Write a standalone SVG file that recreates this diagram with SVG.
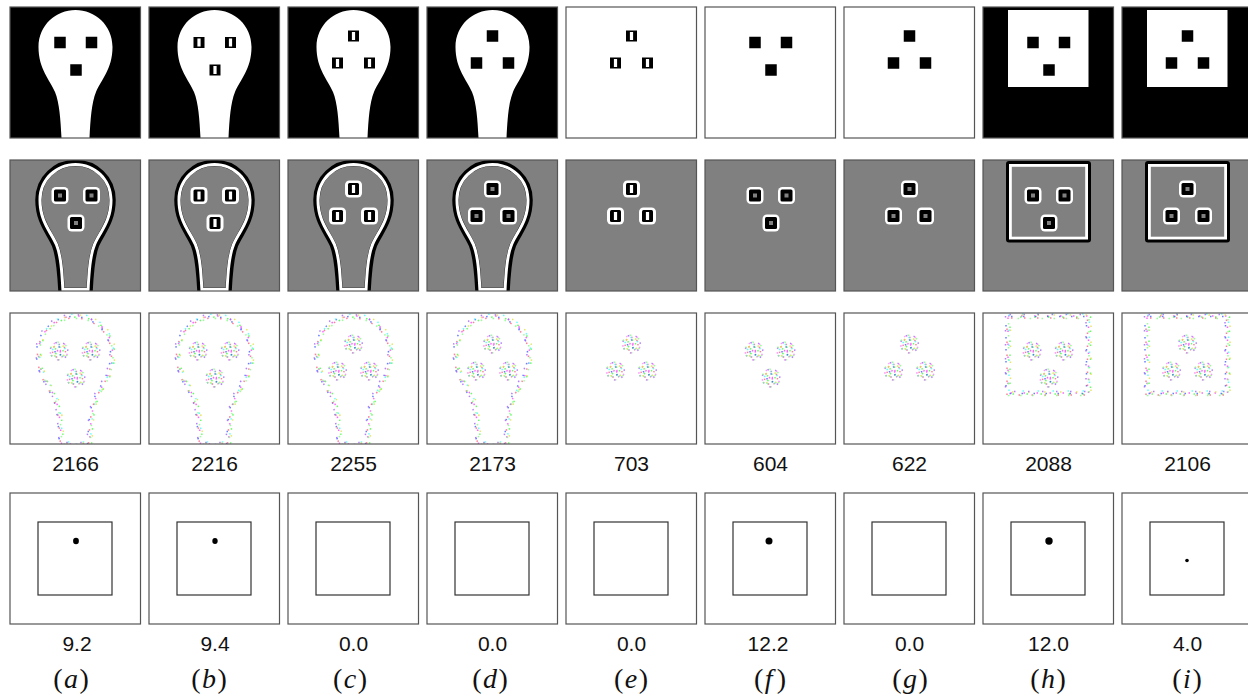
<svg xmlns="http://www.w3.org/2000/svg" xmlns:xlink="http://www.w3.org/1999/xlink" width="1248" height="698" viewBox="0 0 1248 698">
<style>
.frame{fill:none;stroke:#555;stroke-width:1.2}
.num{font-family:"Liberation Sans",Arial,sans-serif;font-size:21px;fill:#111;text-anchor:middle}
.lab{font-family:"Liberation Serif","Times New Roman",serif;font-size:28px;fill:#111;text-anchor:middle}
.d{fill:none;stroke-width:1.5;opacity:0.8}
</style>
<defs>
<path id="head" d="M51.5,131 C50.5,112 49.5,96 45,85 C40,73 28.5,62 28.5,40 C28.5,18 46,3 65.5,3 C85,3 102.5,18 102.5,40 C102.5,62 91,73 86,85 C81.5,96 80.5,112 79.5,131 Z"/>
<path id="box" d="M25,3 H105.5 V80 H25 Z"/>
<clipPath id="hc"><path d="M51.5,131 C50.5,112 49.5,96 45,85 C40,73 28.5,62 28.5,40 C28.5,18 46,3 65.5,3 C85,3 102.5,18 102.5,40 C102.5,62 91,73 86,85 C81.5,96 80.5,112 79.5,131 Z"/></clipPath>
<clipPath id="pc"><rect x="0" y="0" width="130.5" height="131"/></clipPath>
<filter id="soft" x="-10%" y="-10%" width="120%" height="120%"><feGaussianBlur stdDeviation="0.5"/></filter>
<filter id="blur1" x="-50%" y="-50%" width="200%" height="200%"><feGaussianBlur stdDeviation="0.6"/></filter>
<g id="sq"><rect x="-5.75" y="-5.75" width="11.5" height="11.5" fill="#000"/></g>
<g id="sl"><rect x="-5.5" y="-5.5" width="11" height="11" fill="#000"/><rect x="-1.6" y="-4" width="3.2" height="8" fill="#fff"/></g>
<g id="sq2"><rect x="-8.5" y="-8.5" width="17" height="17" rx="4.5" fill="#fff"/><rect x="-6" y="-6" width="12" height="12" rx="1.5" fill="#000"/><rect x="-2" y="-2" width="4" height="4" fill="#808080"/></g>
<g id="sl2"><rect x="-8.5" y="-8.5" width="17" height="17" rx="4.5" fill="#fff"/><rect x="-5.5" y="-6" width="11" height="12" rx="1.5" fill="#000"/><rect x="-1.6" y="-4" width="3.2" height="8" fill="#fff"/></g>
<g id="cl">
<circle r="1.5" class="d" stroke="#ff40ff" stroke-dasharray="1.5 2.2"/>
<circle r="4" class="d" stroke="#40ff40" stroke-dasharray="1.5 3.4" stroke-dashoffset="1"/>
<circle r="4" class="d" stroke="#4060ff" stroke-dasharray="1.5 5.4" stroke-dashoffset="3"/>
<circle r="6.5" class="d" stroke="#ff6080" stroke-dasharray="1.5 4.4"/>
<circle r="6.5" class="d" stroke="#40ffff" stroke-dasharray="1.5 6.4" stroke-dashoffset="3"/>
<circle r="6.5" class="d" stroke="#e0e040" stroke-dasharray="1.5 8.4" stroke-dashoffset="6"/>
<circle r="8.8" class="d" stroke="#a060ff" stroke-dasharray="1.5 6.4" stroke-dashoffset="2"/>
<circle r="8.8" class="d" stroke="#80ff80" stroke-dasharray="1.5 7.4" stroke-dashoffset="5"/>
<circle r="8.8" class="d" stroke="#ff80ff" stroke-dasharray="1.5 9.4" stroke-dashoffset="8"/>
</g>
<g id="hd">
<use href="#head" class="d" stroke="#ff40ff" stroke-dasharray="1.5 11.5"/>
<use href="#head" class="d" stroke="#40ff40" stroke-dasharray="1.5 12.5" stroke-dashoffset="4" transform="translate(2,1)"/>
<use href="#head" class="d" stroke="#4060ff" stroke-dasharray="1.5 10.5" stroke-dashoffset="7" transform="translate(-2,0.5)"/>
<use href="#head" class="d" stroke="#40ffff" stroke-dasharray="1.5 13.5" stroke-dashoffset="2" transform="translate(1,-2)"/>
<use href="#head" class="d" stroke="#ff6080" stroke-dasharray="1.5 11.5" stroke-dashoffset="9" transform="translate(-1,2)"/>
<use href="#head" class="d" stroke="#e0e040" stroke-dasharray="1.5 14.5" stroke-dashoffset="5" transform="translate(2.5,-1)"/>
<use href="#head" class="d" stroke="#a060ff" stroke-dasharray="1.5 12.5" stroke-dashoffset="10" transform="translate(-2.5,-1.5)"/>
<use href="#head" class="d" stroke="#80ff80" stroke-dasharray="1.5 10.5" stroke-dashoffset="3" transform="translate(0.5,2.5)"/>
</g>
<g id="bd">
<use href="#box" class="d" stroke="#ff40ff" stroke-dasharray="1.5 11.5"/>
<use href="#box" class="d" stroke="#40ff40" stroke-dasharray="1.5 12.5" stroke-dashoffset="4" transform="translate(2,1)"/>
<use href="#box" class="d" stroke="#4060ff" stroke-dasharray="1.5 10.5" stroke-dashoffset="7" transform="translate(-2,0.5)"/>
<use href="#box" class="d" stroke="#40ffff" stroke-dasharray="1.5 13.5" stroke-dashoffset="2" transform="translate(1,-2)"/>
<use href="#box" class="d" stroke="#ff6080" stroke-dasharray="1.5 11.5" stroke-dashoffset="9" transform="translate(-1,2)"/>
<use href="#box" class="d" stroke="#e0e040" stroke-dasharray="1.5 14.5" stroke-dashoffset="5" transform="translate(2.5,-1)"/>
<use href="#box" class="d" stroke="#a060ff" stroke-dasharray="1.5 12.5" stroke-dashoffset="10" transform="translate(-2.5,-1.5)"/>
<use href="#box" class="d" stroke="#80ff80" stroke-dasharray="1.5 10.5" stroke-dashoffset="3" transform="translate(0.5,2.5)"/>
</g>
<g id="A1"><use href="#sq" x="50" y="35.5"/><use href="#sq" x="81.5" y="35.5"/><use href="#sq" x="66" y="63"/></g>
<g id="A1s"><use href="#sl" x="50" y="35.5"/><use href="#sl" x="81.5" y="35.5"/><use href="#sl" x="66" y="63"/></g>
<g id="B1"><use href="#sq" x="65.5" y="29"/><use href="#sq" x="49.5" y="56"/><use href="#sq" x="81.5" y="56"/></g>
<g id="B1s"><use href="#sl" x="65.5" y="29"/><use href="#sl" x="49.5" y="56"/><use href="#sl" x="81.5" y="56"/></g>
<g id="A2"><use href="#sq2" x="50" y="35.5"/><use href="#sq2" x="81.5" y="35.5"/><use href="#sq2" x="66" y="63"/></g>
<g id="A2s"><use href="#sl2" x="50" y="35.5"/><use href="#sl2" x="81.5" y="35.5"/><use href="#sl2" x="66" y="63"/></g>
<g id="B2"><use href="#sq2" x="65.5" y="29"/><use href="#sq2" x="49.5" y="56"/><use href="#sq2" x="81.5" y="56"/></g>
<g id="B2s"><use href="#sl2" x="65.5" y="29"/><use href="#sl2" x="49.5" y="56"/><use href="#sl2" x="81.5" y="56"/></g>
<g id="A3"><use href="#cl" x="49" y="38"/><use href="#cl" x="81" y="38"/><use href="#cl" x="66" y="65"/></g>
<g id="B3"><use href="#cl" x="65.5" y="31"/><use href="#cl" x="49.5" y="58"/><use href="#cl" x="81.5" y="58"/></g>
<g id="head2" filter="url(#soft)"><use href="#head" fill="none" stroke="#000" stroke-width="6.5"/><use href="#head" fill="none" stroke="#fff" stroke-width="6" clip-path="url(#hc)"/></g>
<g id="box2" filter="url(#soft)"><rect x="23" y="1" width="85" height="81.5" rx="3" fill="#000"/><rect x="26" y="4" width="79" height="75.5" fill="#fff"/><rect x="28.8" y="6.8" width="73.4" height="69.9" fill="#808080"/></g>
<g id="r4"><rect x="0" y="0" width="130.5" height="131" fill="#fff" stroke="#555" stroke-width="1.2"/><rect x="28" y="29" width="74" height="73" fill="none" stroke="#333" stroke-width="1.2"/></g>
</defs>
<rect width="1248" height="698" fill="#fff"/>

<g id="row1">
<g id="r1a" transform="translate(10,7)"><rect width="130.5" height="131" fill="#000"/><use href="#head" fill="#fff"/><use href="#A1"/><rect width="130.5" height="131" class="frame"/></g>
<g id="r1b" transform="translate(149,7)"><rect width="130.5" height="131" fill="#000"/><use href="#head" fill="#fff"/><use href="#A1s"/><rect width="130.5" height="131" class="frame"/></g>
<g id="r1c" transform="translate(288,7)"><rect width="130.5" height="131" fill="#000"/><use href="#head" fill="#fff"/><use href="#B1s"/><rect width="130.5" height="131" class="frame"/></g>
<g id="r1d" transform="translate(427,7)"><rect width="130.5" height="131" fill="#000"/><use href="#head" fill="#fff"/><use href="#B1"/><rect width="130.5" height="131" class="frame"/></g>
<g id="r1e" transform="translate(566,7)"><rect width="130.5" height="131" fill="#fff"/><use href="#B1s"/><rect width="130.5" height="131" class="frame"/></g>
<g id="r1f" transform="translate(705,7)"><rect width="130.5" height="131" fill="#fff"/><use href="#A1"/><rect width="130.5" height="131" class="frame"/></g>
<g id="r1g" transform="translate(844,7)"><rect width="130.5" height="131" fill="#fff"/><use href="#B1"/><rect width="130.5" height="131" class="frame"/></g>
<g id="r1h" transform="translate(983,7)"><rect width="130.5" height="131" fill="#000"/><rect x="25" y="3" width="80.5" height="77" fill="#fff"/><use href="#A1"/><rect width="130.5" height="131" class="frame"/></g>
<g id="r1i" transform="translate(1122,7)"><rect width="130.5" height="131" fill="#000"/><rect x="25" y="3" width="80.5" height="77" fill="#fff"/><use href="#B1"/><rect width="130.5" height="131" class="frame"/></g>
</g>

<g id="row2">
<g id="r2a" transform="translate(10,160)"><g clip-path="url(#pc)"><rect width="130.5" height="131" fill="#808080"/><use href="#head2"/><use href="#A2"/></g><rect width="130.5" height="131" class="frame"/></g>
<g id="r2b" transform="translate(149,160)"><g clip-path="url(#pc)"><rect width="130.5" height="131" fill="#808080"/><use href="#head2"/><use href="#A2s"/></g><rect width="130.5" height="131" class="frame"/></g>
<g id="r2c" transform="translate(288,160)"><g clip-path="url(#pc)"><rect width="130.5" height="131" fill="#808080"/><use href="#head2"/><use href="#B2s"/></g><rect width="130.5" height="131" class="frame"/></g>
<g id="r2d" transform="translate(427,160)"><g clip-path="url(#pc)"><rect width="130.5" height="131" fill="#808080"/><use href="#head2"/><use href="#B2"/></g><rect width="130.5" height="131" class="frame"/></g>
<g id="r2e" transform="translate(566,160)"><rect width="130.5" height="131" fill="#808080"/><use href="#B2s"/><rect width="130.5" height="131" class="frame"/></g>
<g id="r2f" transform="translate(705,160)"><rect width="130.5" height="131" fill="#808080"/><use href="#A2"/><rect width="130.5" height="131" class="frame"/></g>
<g id="r2g" transform="translate(844,160)"><rect width="130.5" height="131" fill="#808080"/><use href="#B2"/><rect width="130.5" height="131" class="frame"/></g>
<g id="r2h" transform="translate(983,160)"><rect width="130.5" height="131" fill="#808080"/><use href="#box2"/><use href="#A2"/><rect width="130.5" height="131" class="frame"/></g>
<g id="r2i" transform="translate(1122,160)"><rect width="130.5" height="131" fill="#808080"/><use href="#box2"/><use href="#B2"/><rect width="130.5" height="131" class="frame"/></g>
</g>

<g id="row3">
<g id="r3a" transform="translate(10,313)"><rect width="130.5" height="131" fill="#fff"/><g clip-path="url(#pc)"><use href="#hd"/><use href="#A3"/></g><rect width="130.5" height="131" class="frame"/></g>
<g id="r3b" transform="translate(149,313)"><rect width="130.5" height="131" fill="#fff"/><g clip-path="url(#pc)"><use href="#hd"/><use href="#A3"/></g><rect width="130.5" height="131" class="frame"/></g>
<g id="r3c" transform="translate(288,313)"><rect width="130.5" height="131" fill="#fff"/><g clip-path="url(#pc)"><use href="#hd"/><use href="#B3"/></g><rect width="130.5" height="131" class="frame"/></g>
<g id="r3d" transform="translate(427,313)"><rect width="130.5" height="131" fill="#fff"/><g clip-path="url(#pc)"><use href="#hd"/><use href="#B3"/></g><rect width="130.5" height="131" class="frame"/></g>
<g id="r3e" transform="translate(566,313)"><rect width="130.5" height="131" fill="#fff"/><use href="#B3"/><rect width="130.5" height="131" class="frame"/></g>
<g id="r3f" transform="translate(705,313)"><rect width="130.5" height="131" fill="#fff"/><use href="#A3"/><rect width="130.5" height="131" class="frame"/></g>
<g id="r3g" transform="translate(844,313)"><rect width="130.5" height="131" fill="#fff"/><use href="#B3"/><rect width="130.5" height="131" class="frame"/></g>
<g id="r3h" transform="translate(983,313)"><rect width="130.5" height="131" fill="#fff"/><use href="#bd"/><use href="#A3"/><rect width="130.5" height="131" class="frame"/></g>
<g id="r3i" transform="translate(1122,313)"><rect width="130.5" height="131" fill="#fff"/><use href="#bd"/><use href="#B3"/><rect width="130.5" height="131" class="frame"/></g>
<text class="num" x="75.5" y="470.5">2166</text>
<text class="num" x="214.5" y="470.5">2216</text>
<text class="num" x="353.5" y="470.5">2255</text>
<text class="num" x="492.5" y="470.5">2173</text>
<text class="num" x="631.5" y="470.5">703</text>
<text class="num" x="770.5" y="470.5">604</text>
<text class="num" x="909.5" y="470.5">622</text>
<text class="num" x="1048.5" y="470.5">2088</text>
<text class="num" x="1187.5" y="470.5">2106</text>
</g>

<g id="row4">
<g id="r4a" transform="translate(10,493)"><use href="#r4"/><ellipse cx="66" cy="48" rx="2.9" ry="3.3" fill="#000" filter="url(#blur1)"/></g>
<g id="r4b" transform="translate(149,493)"><use href="#r4"/><ellipse cx="66" cy="48" rx="2.7" ry="3" fill="#000" filter="url(#blur1)"/></g>
<g id="r4c" transform="translate(288,493)"><use href="#r4"/></g>
<g id="r4d" transform="translate(427,493)"><use href="#r4"/></g>
<g id="r4e" transform="translate(566,493)"><use href="#r4"/></g>
<g id="r4f" transform="translate(705,493)"><use href="#r4"/><ellipse cx="64" cy="48" rx="3.5" ry="3.5" fill="#000" filter="url(#blur1)"/></g>
<g id="r4g" transform="translate(844,493)"><use href="#r4"/></g>
<g id="r4h" transform="translate(983,493)"><use href="#r4"/><ellipse cx="66" cy="48" rx="3.7" ry="3.7" fill="#000" filter="url(#blur1)"/></g>
<g id="r4i" transform="translate(1122,493)"><use href="#r4"/><circle cx="65" cy="67.5" r="1.8" fill="#000"/></g>
<text class="num" x="77" y="650.5">9.2</text>
<text class="num" x="215" y="650.5">9.4</text>
<text class="num" x="353.5" y="650.5">0.0</text>
<text class="num" x="492.5" y="650.5">0.0</text>
<text class="num" x="631.5" y="650.5">0.0</text>
<text class="num" x="768" y="650.5">12.2</text>
<text class="num" x="909.5" y="650.5">0.0</text>
<text class="num" x="1048.5" y="650.5">12.0</text>
<text class="num" x="1187.5" y="650.5">4.0</text>
</g>

<g id="labels">
<text class="lab" x="71" y="688">(<tspan dx="1.5" font-style="italic">a</tspan><tspan dx="1.5">)</tspan></text>
<text class="lab" x="209" y="688">(<tspan dx="1.5" font-style="italic">b</tspan><tspan dx="1.5">)</tspan></text>
<text class="lab" x="350" y="688">(<tspan dx="1.5" font-style="italic">c</tspan><tspan dx="1.5">)</tspan></text>
<text class="lab" x="490" y="688">(<tspan dx="1.5" font-style="italic">d</tspan><tspan dx="1.5">)</tspan></text>
<text class="lab" x="631" y="688">(<tspan dx="1.5" font-style="italic">e</tspan><tspan dx="1.5">)</tspan></text>
<text class="lab" x="770" y="688">(<tspan dx="1.5" font-style="italic">f</tspan><tspan dx="4">)</tspan></text>
<text class="lab" x="910" y="688">(<tspan dx="1.5" font-style="italic">g</tspan><tspan dx="1.5">)</tspan></text>
<text class="lab" x="1048" y="688">(<tspan dx="1.5" font-style="italic">h</tspan><tspan dx="1.5">)</tspan></text>
<text class="lab" x="1187" y="688">(<tspan dx="1.5" font-style="italic">i</tspan><tspan dx="1.5">)</tspan></text>
</g>
</svg>
